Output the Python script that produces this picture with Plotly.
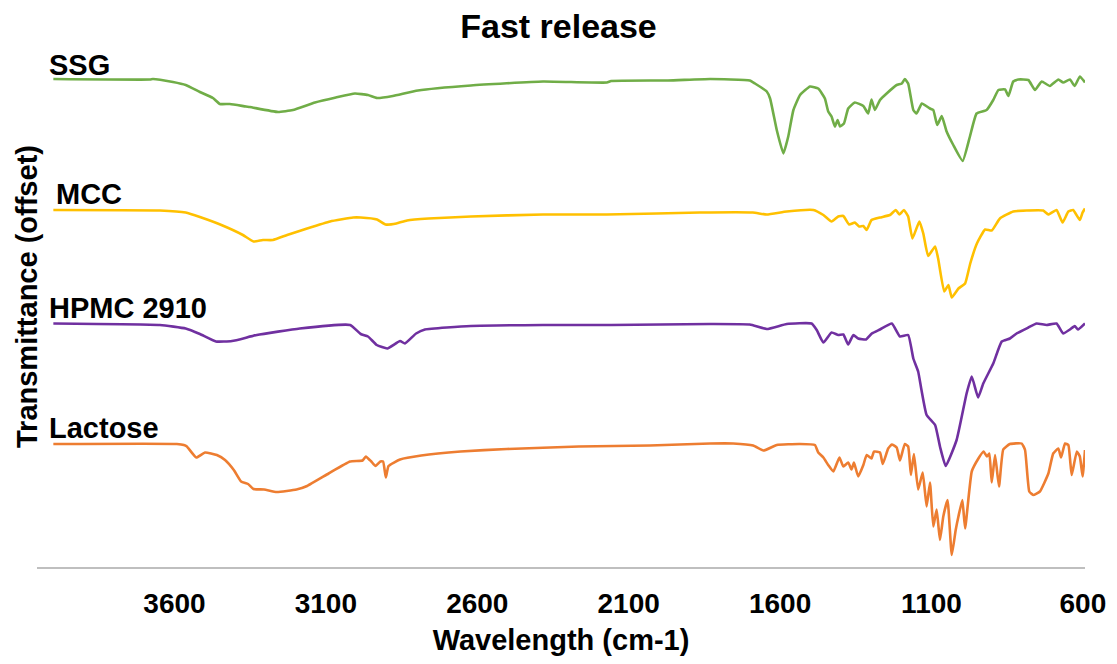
import plotly.graph_objects as go

# FTIR spectra of fast-release excipients, stacked with vertical offsets
ssg_wn = [4000, 3681, 3671, 3605, 3563, 3516, 3473, 3450, 3417, 3364, 3351, 3258, 3209, 3136,
          3067, 3004, 2961, 2931, 2879, 2796, 2621, 2383, 2172, 2158, 1970, 1831, 1700, 1683,
          1644, 1633, 1611, 1589, 1573, 1556, 1534, 1501, 1474, 1452, 1441, 1430, 1419, 1410,
          1402, 1389, 1375, 1353, 1325, 1309, 1298, 1287, 1270, 1248, 1215, 1198, 1188, 1177,
          1160, 1149, 1132, 1105, 1094, 1081, 1066, 1050, 1028, 997, 973, 951, 918, 896, 879,
          857, 846, 830, 813, 780, 758, 736, 709, 681, 665, 643, 627, 610, 593]
ssg_t = [97.6, 97.5, 97.6, 97.0, 96.4, 95.0, 93.8, 92.6, 92.6, 92.1, 92.0, 91.0, 91.4, 92.9,
         93.9, 94.7, 94.4, 93.8, 94.2, 95.3, 96.3, 97.1, 96.9, 97.2, 97.3, 97.6, 97.3, 96.7,
         95.1, 93.7, 87.4, 82.7, 86.1, 91.4, 94.4, 96.1, 95.7, 93.7, 91.1, 90.1, 88.1, 89.4,
         88.1, 88.7, 91.7, 92.9, 92.2, 90.7, 93.5, 91.4, 93.4, 94.7, 96.4, 96.7, 97.6, 96.7,
         91.4, 90.7, 92.7, 91.7, 91.4, 88.4, 90.2, 87.1, 84.4, 81.2, 86.1, 90.7, 91.4, 93.4, 95.4,
         95.5, 94.2, 97.1, 97.5, 97.4, 95.4, 97.1, 96.2, 97.5, 96.9, 97.5, 96.2, 98.1, 96.9]

mcc_wn = [4000, 3648, 3563, 3516, 3445, 3374, 3339, 3308, 3275, 3228, 3162, 3086, 3010, 2985,
          2931, 2903, 2867, 2832, 2761, 2621, 2383, 2172, 2007, 1865, 1690, 1644, 1578, 1490,
          1457, 1430, 1408, 1391, 1372, 1353, 1339, 1325, 1314, 1298, 1270, 1237, 1218, 1206,
          1191, 1177, 1163, 1140, 1127, 1111, 1088, 1078, 1058, 1044, 1033, 1011, 989, 972,
          950, 923, 901, 874, 830, 786, 731, 714, 687, 667, 648, 632, 610, 601, 593]
mcc_t = [71.4, 71.3, 70.9, 70.0, 68.4, 66.4, 65.1, 65.4, 65.4, 66.4, 67.7, 69.1, 69.9, 69.9,
         69.5, 68.5, 68.7, 69.3, 69.7, 70.1, 70.5, 70.5, 70.7, 70.9, 70.9, 70.5, 71.1, 71.4,
         70.4, 69.1, 70.1, 70.2, 68.5, 68.9, 68.1, 68.2, 67.4, 69.4, 69.9, 70.4, 71.4, 70.5,
         71.4, 70.1, 65.7, 69.1, 66.7, 62.2, 64.1, 61.7, 55.1, 56.4, 53.9, 55.7, 56.7, 60.7,
         64.7, 67.5, 67.3, 69.7, 71.1, 71.3, 71.3, 70.5, 71.4, 68.9, 71.1, 71.4, 69.4, 70.9, 71.7]

hpmc_wn = [4000, 3648, 3563, 3516, 3463, 3410, 3328, 3186, 3020, 2985, 2961, 2932, 2897, 2855,
           2839, 2802, 2773, 2621, 2383, 2158, 1831, 1700, 1644, 1578, 1496, 1479, 1457, 1430,
           1408, 1391, 1375, 1358, 1342, 1316, 1297, 1270, 1231, 1204, 1177, 1160, 1144, 1133,
           1116, 1088, 1072, 1053, 1017, 984, 967, 946, 929, 896, 868, 841, 819, 780, 753,
           720, 687, 665, 643, 627, 616, 593]
hpmc_t = [48.7, 48.4, 47.7, 46.6, 45.1, 45.2, 46.4, 47.7, 48.4, 46.6, 46.1, 44.4, 43.7, 45.2,
          44.7, 46.7, 47.5, 48.2, 48.4, 48.4, 48.6, 48.5, 47.6, 48.6, 48.7, 47.4, 44.9, 46.9,
          46.4, 46.5, 44.5, 46.4, 45.7, 45.5, 46.7, 47.5, 48.7, 46.1, 46.4, 41.7, 39.1, 35.4,
          30.4, 28.4, 24.1, 20.2, 25.4, 34.7, 38.1, 33.9, 36.7, 40.7, 45.1, 45.7, 46.7, 47.9, 48.7,
          48.4, 48.7, 46.7, 47.5, 48.2, 47.5, 48.7]

lac_wn = [4000, 3592, 3569, 3559, 3528, 3499, 3460, 3433, 3404, 3380, 3357, 3339, 3304, 3262,
          3197, 3162, 3091, 3020, 2979, 2968, 2950, 2936, 2920, 2911, 2902, 2893, 2855, 2785,
          2655, 2502, 2265, 2030, 1831, 1755, 1689, 1655, 1611, 1535, 1485, 1474, 1457, 1441,
          1424, 1404, 1391, 1375, 1364, 1356, 1342, 1325, 1314, 1298, 1290, 1270, 1261, 1243,
          1231, 1215, 1204, 1188, 1177, 1168, 1158, 1144, 1129, 1116, 1105, 1094, 1083, 1072,
          1061, 1047, 1033, 1020, 1011, 998, 989, 967, 945, 928, 917, 909, 901, 890, 877, 863,
          841, 802, 791, 777, 764, 742, 714, 698, 681, 672, 659, 648, 637, 620, 610, 601, 593]
lac_t = [24.6, 24.6, 24.4, 24.1, 21.9, 22.9, 22.4, 21.4, 19.4, 17.1, 16.6, 15.6, 15.5, 15.0,
         15.5, 16.2, 18.7, 21.1, 21.3, 22.1, 21.1, 20.2, 21.1, 21.1, 17.9, 20.2, 21.5, 22.3,
         23.1, 23.6, 24.1, 24.3, 24.7, 24.7, 24.3, 23.3, 24.4, 24.6, 24.4, 22.9, 21.9, 20.4,
         19.1, 21.9, 20.1, 20.9, 19.5, 20.9, 18.1, 20.4, 22.4, 21.7, 23.1, 22.9, 20.6, 23.7,
         24.5, 23.9, 21.3, 24.6, 24.1, 18.4, 22.6, 15.5, 18.9, 12.1, 16.9, 8.1, 11.5, 5.4,
         10.1, 13.4, 2.4, 7.4, 10.1, 13.4, 7.7, 19.1, 21.7, 23.1, 22.1, 22.7, 16.9, 22.4, 16.1, 23.5,
         24.6, 24.7, 23.4, 15.1, 14.4, 15.1, 18.7, 22.7, 23.7, 21.9, 24.7, 24.4, 18.4, 23.1, 22.1, 18.1, 23.4]

x_ticks = [3600, 3100, 2600, 2100, 1600, 1100, 600]

series = [
    ("SSG", ssg_wn, ssg_t, "#70AD47", 4022, -4),
    ("MCC", mcc_wn, mcc_t, "#FFC000", 3998, -2),
    ("HPMC 2910", hpmc_wn, hpmc_t, "#7030A0", 4020, -2),
    ("Lactose", lac_wn, lac_t, "#ED7D31", 4020, -2),
]

FONT = "Liberation Sans, Arial, sans-serif"

fig = go.Figure()
for name, wn, t, color, _, _ in series:
    fig.add_trace(go.Scatter(x=wn, y=t, mode="lines", name=name,
                             line=dict(color=color, width=2.6, shape="spline", smoothing=0.4),
                             showlegend=False))

for name, wn, t, color, label_x, dy in series:
    fig.add_annotation(x=label_x, y=t[0], xref="x", yref="y", text="<b>%s</b>" % name,
                       showarrow=False, xanchor="left", yanchor="bottom", yshift=dy,
                       font=dict(family=FONT, size=29, color="black"))

# vertical axis title, placed beside the plot area
fig.add_annotation(x=27, y=297, xref="paper", yref="paper", text="<b>Transmittance (offset)</b>",
                   showarrow=False, textangle=-90, xanchor="center", yanchor="middle",
                   font=dict(family=FONT, size=29, color="black"))

fig.update_layout(
    width=1117, height=664,
    margin=dict(l=37, r=32, t=60, b=97),
    paper_bgcolor="white", plot_bgcolor="white",
    title=dict(text="<b>Fast release</b>", x=0.5, xref="container", y=0.96,
               yanchor="middle", font=dict(family=FONT, size=34, color="black")),
    xaxis=dict(range=[4054, 593], tickvals=x_ticks,
               ticktext=["<b>%d</b>" % v for v in x_ticks],
               showgrid=False, zeroline=False, showline=True, linecolor="#BFBFBF",
               linewidth=2, ticks="", ticklabelstandoff=10,
               tickfont=dict(family=FONT, size=28, color="black"),
               title=dict(text="<b>Wavelength (cm-1)</b>", standoff=12,
                          font=dict(family=FONT, size=29, color="black"))),
    yaxis=dict(range=[0, 101.4], showgrid=False, zeroline=False, showline=False,
               showticklabels=False, ticks=""),
)

# place the rotated y title in pixel terms of the full figure
pw = 1117 - 37 - 32
ph = 664 - 60 - 97
ann = fig.layout.annotations[-1]
ann.x = (27 - 37) / pw
ann.y = (664 - 97 - 297) / ph

fig.write_html("out.html")
